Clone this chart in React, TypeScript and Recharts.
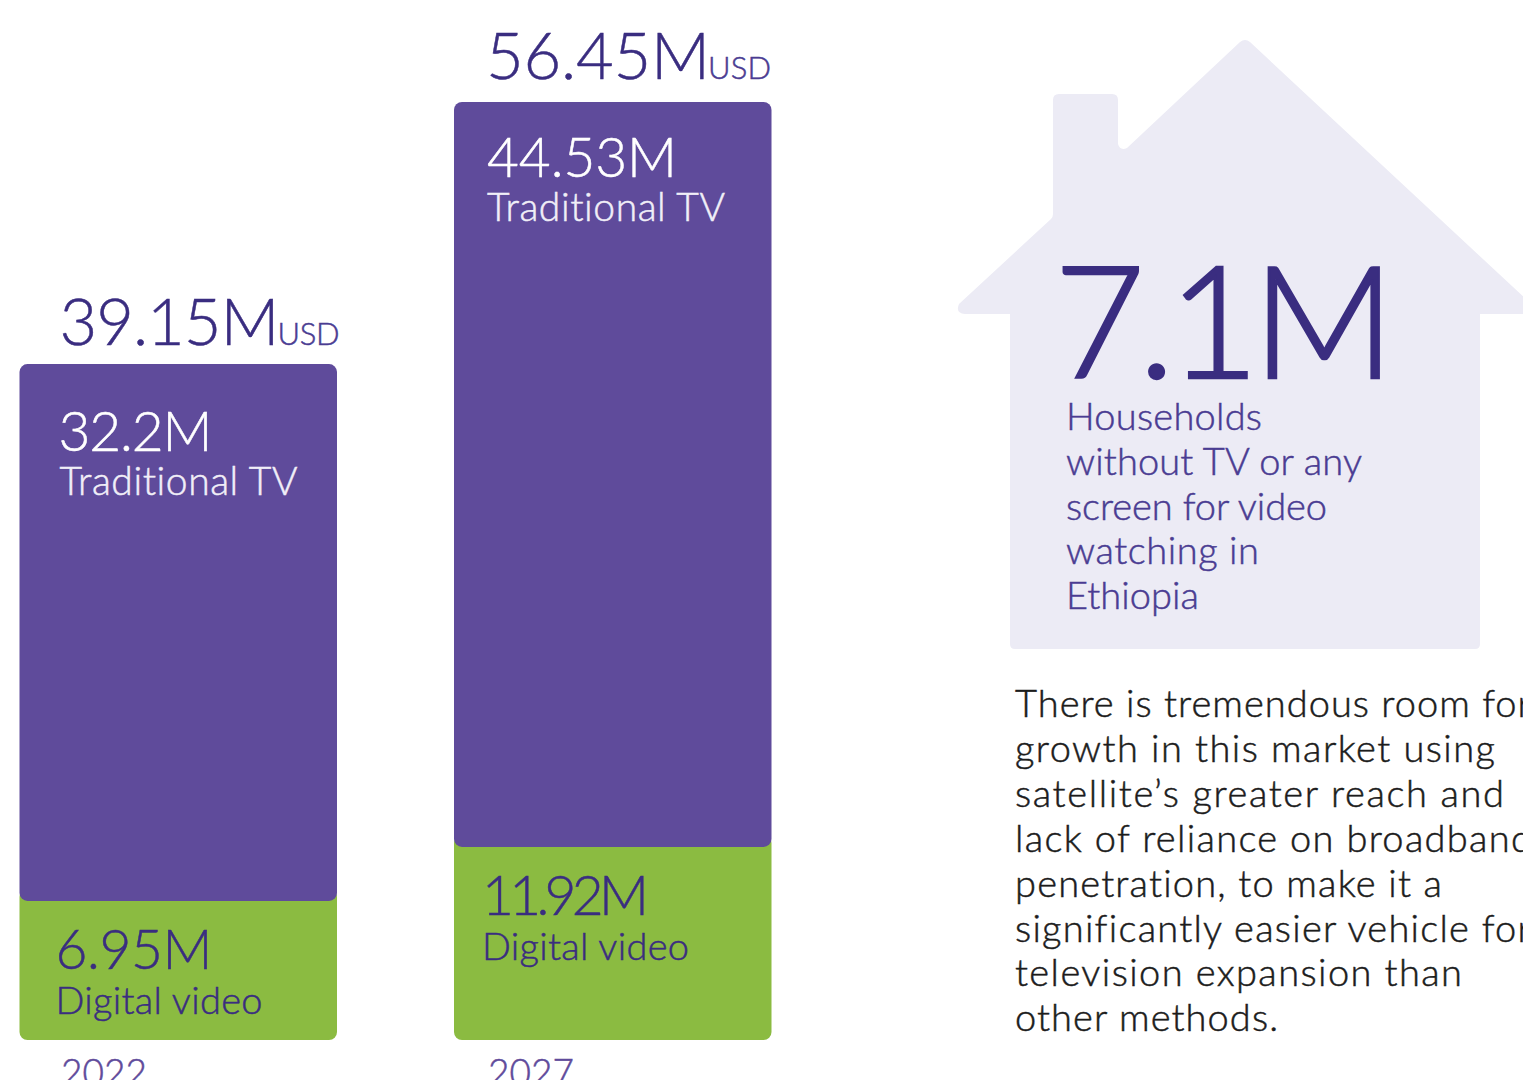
import React from "react";
import { BarChart, Bar, XAxis, YAxis, LabelList } from "recharts";

// Printed figures, exactly as the reference states them.
const years = ["2022", "2027"];
const totalLabels = ["39.15M", "56.45M"];
const traditionalLabels = ["32.2M", "44.53M"];
const digitalLabels = ["6.95M", "11.92M"];
// Bar heights. The reference's bars are not strictly to scale
// with their printed labels (most visibly the 2022 digital video segment).
const digitalHeights = [8.37, 11.62];
const traditionalHeights = [32.31, 44.83];

const houseLines = ["Households", "without TV or any", "screen for video", "watching in", "Ethiopia"];
const bodyLines = [
  "There is tremendous room for",
  "growth in this market using",
  "satellite\u2019s greater reach and",
  "lack of reliance on broadband",
  "penetration, to make it a",
  "significantly easier vehicle for",
  "television expansion than",
  "other methods.",
];

const rows = years.map((year, i) => ({
  year,
  digital: digitalHeights[i],
  traditional: traditionalHeights[i],
  total: totalLabels[i],
  traditionalLabel: traditionalLabels[i],
  digitalLabel: digitalLabels[i],
}));

const FONT = "Lato, 'Open Sans', sans-serif";
const INK = "#3a2d80";
const MID = "#4a3c92";
const PURPLE = "#5f4b9b";
const GREEN = "#8bbb41";
const HOUSE = "#ecebf5";

const T = ({ x, y, size, fill, w, children, weight = 300, bold = 0.5 }: any) => (
  <text
    x={x}
    y={y}
    fontSize={size}
    fill={fill}
    stroke={fill}
    strokeWidth={bold}
    fontFamily={FONT}
    fontWeight={weight}
    textLength={w}
    lengthAdjust="spacing"
    style={{ fontVariantLigatures: "none" }}
  >
    {children}
  </text>
);

// Layout of the labels inside the bars
const totalLook = [
  { dx: 40, dy: -19, w: 220, ux: 258, uw: 62 },
  { dx: 32, dy: -23, w: 224, ux: 254, uw: 63 },
];
const tradLook = [
  { dx: 39, lx: 40, dy: 87, w: 154 },
  { dx: 33, lx: 33, dy: 75, w: 190 },
];
const digiLook = [
  { dx: 36, dy: 68, w: 157, lw: 207 },
  { dx: 28, dy: 68, w: 167, lw: 207 },
];
const houseWidths = [196, 296, 261, 193, 133];
const houseBase = [430, 475, 520, 564, 609];
const bodyWidths = [516, 480, 489, 517, 427, 516, 447, 263];
const bodyBase = [717, 762, 807, 852, 897, 942, 986, 1031];
const tickX = [61, 488];

const GreenShape = (p: any) => (
  <rect x={p.x} y={p.y - 12} width={p.width} height={p.height + 12} rx={8} ry={8} fill={GREEN} />
);

const TotalLabel = (p: any) => {
  const l = totalLook[p.index];
  const y = p.y + l.dy;
  return (
    <g>
      <T x={p.x + l.dx} y={y} size={65} fill={INK} w={l.w}>{p.value}</T>
      <T x={p.x + l.ux} y={y} size={31} fill={MID} w={l.uw}>USD</T>
    </g>
  );
};
const TradLabel = (p: any) => {
  const l = tradLook[p.index];
  return (
    <g>
      <T x={p.x + l.dx} y={p.y + l.dy} size={55} fill="#ffffff" w={l.w}>{p.value}</T>
      <T x={p.x + l.lx} y={p.y + l.dy + 44} size={39} fill="#f1eff8" w={238}>Traditional TV</T>
    </g>
  );
};
const DigiLabel = (p: any) => {
  const l = digiLook[p.index];
  return (
    <g>
      <T x={p.x + l.dx} y={p.y + l.dy} size={55} fill={INK} w={l.w}>{p.value}</T>
      <T x={p.x + l.dx} y={p.y + l.dy + 45} size={38} fill={INK} w={l.lw}>Digital video</T>
    </g>
  );
};
const YearTick = (p: any) => (
  <T x={tickX[p.index]} y={1086} size={37} fill={PURPLE} w={86}>{p.payload.value}</T>
);

const housePath =
  "M1240 42 Q1245 38 1250 42 L1528 301 Q1534 309 1527 314 L1480 314 L1480 644 Q1480 649 1475 649 L1015 649 Q1010 649 1010 644 L1010 314 L965 314 Q955 313 959 304 L1051 219 Q1053 217 1053 214 L1053 100 Q1053 94 1059 94 L1112 94 Q1118 94 1118 100 L1118 144 Q1120 151 1127 148 Z";

export default function App() {
  return (
    <div style={{ position: "absolute", left: 0, top: 0, width: 1523, height: 1080, overflow: "hidden", background: "#fff" }}>
      <svg width={1523} height={1080} style={{ position: "absolute", left: 0, top: 0 }}>
        <path d={housePath} fill={HOUSE} />
        <T x={1054} y={378} size={157} fill={INK} w={341} weight={300} bold={2.5}>7.1M</T>
        {houseLines.map((s, i) => (
          <T key={s} x={1066} y={houseBase[i]} size={38} fill={MID} w={houseWidths[i]}>{s}</T>
        ))}
        {bodyLines.map((s, i) => (
          <T key={s} x={1015} y={bodyBase[i]} size={38} fill="#1c1c1c" w={bodyWidths[i]}>{s}</T>
        ))}
      </svg>
      <div style={{ position: "absolute", left: 0, top: 0 }}>
        <BarChart
          width={1523}
          height={1080}
          data={rows}
          margin={{ top: 43, right: 693.5, bottom: 0, left: -39.5 }}
          barSize={317.5}
        >
          <XAxis
            dataKey="year"
            axisLine={false}
            tickLine={false}
            height={40}
            interval={0}
            tickMargin={0}
            tick={<YearTick />}
          />
          <YAxis hide domain={[0, 60]} />
          <Bar dataKey="digital" stackId="a" shape={<GreenShape />} isAnimationActive={false}>
            <LabelList dataKey="digitalLabel" content={<DigiLabel />} />
          </Bar>
          <Bar dataKey="traditional" stackId="a" fill={PURPLE} radius={8} isAnimationActive={false}>
            <LabelList dataKey="traditionalLabel" content={<TradLabel />} />
            <LabelList dataKey="total" content={<TotalLabel />} />
          </Bar>
        </BarChart>
      </div>
    </div>
  );
}
